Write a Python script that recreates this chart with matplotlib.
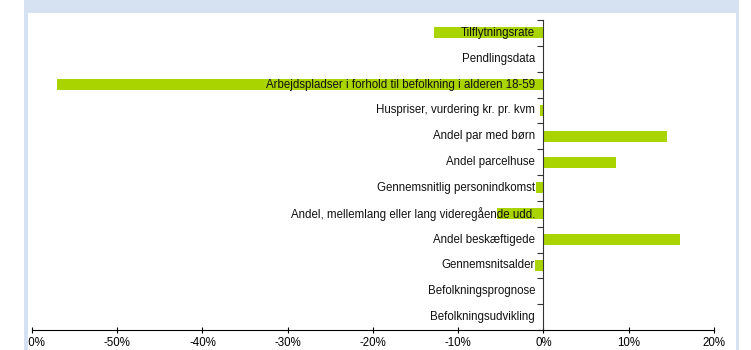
"""Horizontal bar chart: indicator deviations in percent."""
import matplotlib.pyplot as plt
from matplotlib.patches import Rectangle
from matplotlib.ticker import FixedLocator, PercentFormatter

plt.rcParams["font.family"] = ["Liberation Sans", "DejaVu Sans"]
plt.rcParams["axes.unicode_minus"] = False

categories = [
    "Tilflytningsrate",
    "Pendlingsdata",
    "Arbejdspladser i forhold til befolkning i alderen 18-59",
    "Huspriser, vurdering kr. pr. kvm",
    "Andel par med børn",
    "Andel parcelhuse",
    "Gennemsnitlig personindkomst",
    "Andel, mellemlang eller lang videregående udd.",
    "Andel beskæftigede",
    "Gennemsnitsalder",
    "Befolkningsprognose",
    "Befolkningsudvikling",
]
values = [-12.9, 0.0, -57.1, -0.4, 14.5, 8.5, -0.85, -5.5, 16.0, -1.0, 0.0, 0.0]
x_ticks = [-60, -50, -40, -30, -20, -10, 0, 10, 20]

BAR = "#aad400"
FRAME = "#d6e2f2"

fig = plt.figure(figsize=(7.51, 3.5), dpi=100)
ax = fig.add_axes([32 / 751, 20 / 350, 682 / 751, 310 / 350])

n = len(categories)
ypos = list(range(n))
ax.barh(ypos, values, height=0.42, color=BAR, zorder=1)

ax.set_xlim(-60, 20)
ax.set_ylim(n - 0.5, -0.5)

# x axis: percent ticks along the bottom
ax.xaxis.set_major_locator(FixedLocator(x_ticks))
ax.xaxis.set_major_formatter(PercentFormatter(decimals=0))
ax.tick_params(axis="x", direction="inout", length=5, width=0.8,
               labelsize=8.3, pad=2.5, colors="black")

# y axis sits at zero, ticks between categories, labels at centres
ax.spines["left"].set_position(("data", 0))
ax.spines["left"].set_color("#333333")
ax.spines["bottom"].set_color("black")
ax.spines["top"].set_visible(False)
ax.spines["right"].set_visible(False)
ax.set_yticks([i - 0.5 for i in range(n + 1)])
ax.set_yticklabels([])
ax.tick_params(axis="y", which="major", direction="out", length=4,
               width=0.8, color="#333333")
ax.set_yticks(ypos, minor=True)
ax.set_yticklabels(categories, minor=True)
ax.tick_params(axis="y", which="minor", length=0, pad=6,
               labelsize=8.3, labelcolor="#111111")
for lbl in ax.get_yticklabels(minor=True):
    lbl.set_zorder(5)
    lbl.set_verticalalignment("center")

# surrounding panel frame
fig.add_artist(Rectangle((0, 0), 24 / 751, 1, transform=fig.transFigure,
                         facecolor="white", edgecolor="none", zorder=10))
fig.add_artist(Rectangle((24 / 751, 0), 3.6 / 751, 1, transform=fig.transFigure,
                         facecolor=FRAME, edgecolor="none", zorder=10))
fig.add_artist(Rectangle((736 / 751, 0), 3.4 / 751, 1, transform=fig.transFigure,
                         facecolor=FRAME, edgecolor="none", zorder=10))
fig.add_artist(Rectangle((24 / 751, 337 / 350), 715.4 / 751, 13 / 350,
                         transform=fig.transFigure,
                         facecolor=FRAME, edgecolor="none", zorder=10))

fig.savefig("out.png", dpi=100)
